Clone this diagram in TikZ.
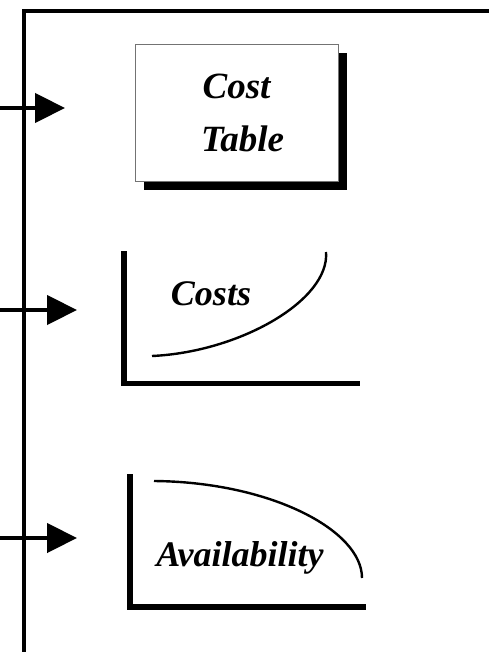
\documentclass[tikz,border=0pt]{standalone}
\usepackage{fontspec}
\setmainfont{Liberation Serif}
\usetikzlibrary{arrows.meta,shadows}
\begin{document}
\begin{tikzpicture}[x=1pt,y=-1pt,
  frameline/.style={line width=4pt},
  feed/.style={line width=4.5pt,-{Triangle[length=30pt,width=29pt]}},
  axis/.style={line width=5.5pt,line join=miter},
  curve/.style={line width=2.4pt},
  label/.style={font=\fontsize{36}{42}\selectfont\bfseries\itshape,inner sep=0pt},
  tablebox/.style={draw=black!55,line width=0.8pt,fill=white,
    minimum width=203pt,minimum height=137pt,
    drop shadow={shadow xshift=9pt,shadow yshift=-9pt,opacity=1,fill=black},
    align=center,font=\fontsize{37}{53}\selectfont\bfseries\itshape}]
  \useasboundingbox (0,0) rectangle (489,652);

  % outer frame: top edge and left edge
  \coordinate (ftl) at (24,11);
  \coordinate (ftr) at (489,11);
  \coordinate (fbl) at (24,652);
  \draw[frameline] (ftr) -- (ftl) -- (fbl);

  % cost table
  \node[tablebox] (ct) at (236.5,113) {Cost\\\hspace*{12pt}Table};

  % costs chart
  \draw[axis] (124,251) -- (124,383.5) -- (360,383.5);
  \draw[curve] (152,356) .. controls (240,352) and (330,300) .. (326,252);
  \node[label,anchor=base] (costs) at (211,305) {Costs};

  % availability chart
  \draw[axis] (130,474) -- (130,607) -- (366,607);
  \draw[curve] (154,481) .. controls (270,482) and (362,530) .. (362,578);
  \node[label,anchor=base] (avail) at (240,566) {Availability};

  % incoming arrows
  \coordinate (in1) at (0,108);  \coordinate (tip1) at (65,108);
  \coordinate (in2) at (0,310);  \coordinate (tip2) at (77,310);
  \coordinate (in3) at (0,538);  \coordinate (tip3) at (77,538);
  \draw[feed] (in1) -- (tip1);
  \draw[feed] (in2) -- (tip2);
  \draw[feed] (in3) -- (tip3);
\end{tikzpicture}
\end{document}
